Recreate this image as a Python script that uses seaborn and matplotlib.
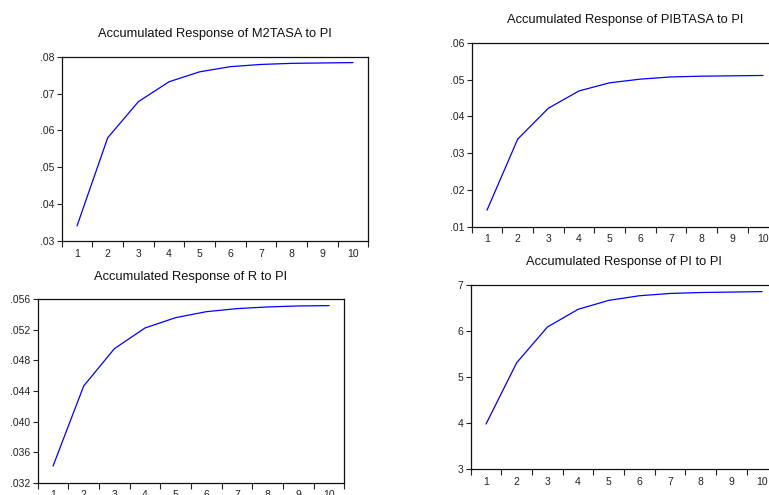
import numpy as np
import pandas as pd
import matplotlib
matplotlib.use("Agg")
import matplotlib.pyplot as plt
from matplotlib.ticker import FuncFormatter, FixedLocator
import seaborn as sns

# Accumulated impulse responses to a PI shock, periods 1-10
periods = [1, 2, 3, 4, 5, 6, 7, 8, 9, 10]
resp_m2tasa = [0.0341, 0.0580, 0.0678, 0.0732, 0.0759, 0.0773, 0.0779, 0.0782, 0.0783, 0.0784]
resp_pibtasa = [0.0145, 0.0338, 0.0422, 0.0469, 0.0491, 0.0501, 0.0507, 0.0509, 0.0510, 0.0511]
resp_r = [0.03418, 0.04466, 0.04954, 0.05225, 0.05360, 0.05438, 0.05478, 0.05500, 0.05513, 0.05517]
resp_pi = [3.976, 5.307, 6.081, 6.465, 6.660, 6.760, 6.810, 6.830, 6.840, 6.850]

titles = [
    "Accumulated Response of M2TASA to PI",
    "Accumulated Response of PIBTASA to PI",
    "Accumulated Response of R to PI",
    "Accumulated Response of PI to PI",
]

sns.set_style("white")
plt.rcParams["font.family"] = ["Liberation Sans", "DejaVu Sans"]

W, H = 769, 495
fig = plt.figure(figsize=(W / 100, H / 100), dpi=100)


def px_axes(left, top, right, bottom):
    return fig.add_axes([left / W, 1 - bottom / H, (right - left) / W, (bottom - top) / H])


def drop_zero(fmt):
    def f(v, pos):
        s = fmt.format(v)
        if s.startswith("0."):
            s = s[1:]
        return s
    return FuncFormatter(f)


panels = [
    (px_axes(61.7, 56.7, 368.4, 241.0), resp_m2tasa, (0.03, 0.08), np.arange(0.03, 0.0801, 0.01), "{:.2f}"),
    (px_axes(471.7, 42.7, 778.4, 226.7), resp_pibtasa, (0.01, 0.06), np.arange(0.01, 0.0601, 0.01), "{:.2f}"),
    (px_axes(37.7, 299.3, 344.4, 482.7), resp_r, (0.032, 0.056), np.arange(0.032, 0.05601, 0.004), "{:.3f}"),
    (px_axes(470.7, 284.7, 777.4, 469.0), resp_pi, (3, 7), np.arange(3, 7.01, 1), "{:.0f}"),
]

for (ax, vals, ylim, yt, fmt), title in zip(panels, titles):
    df = pd.DataFrame({"period": periods, "response": vals})
    sns.lineplot(data=df, x="period", y="response", ax=ax, color="#0000ff", linewidth=0.9)
    ax.set_xlim(0.5, 10.5)
    ax.set_ylim(*ylim)
    ax.set_xlabel("")
    ax.set_ylabel("")
    ax.set_title(title, fontsize=9.3, pad=14, color="#111111")
    # integer labels without marks, separator marks at the half periods
    ax.xaxis.set_major_locator(FixedLocator(periods))
    ax.xaxis.set_minor_locator(FixedLocator(np.arange(0.5, 10.6, 1)))
    ax.tick_params(axis="x", which="major", length=0, pad=5.5, labelsize=7.5, colors="#222222")
    ax.tick_params(axis="x", which="minor", length=4, width=0.8, direction="out", colors="#222222", bottom=True)
    ax.set_yticks(yt)
    ax.yaxis.set_major_formatter(drop_zero(fmt))
    ax.tick_params(axis="y", which="major", length=3.5, width=0.8, direction="out", pad=2,
                   labelsize=7.5, colors="#222222", left=True)
    for sp in ax.spines.values():
        sp.set_visible(True)
        sp.set_color("#111111")
        sp.set_linewidth(0.9)

fig.savefig("out.png", dpi=100)
